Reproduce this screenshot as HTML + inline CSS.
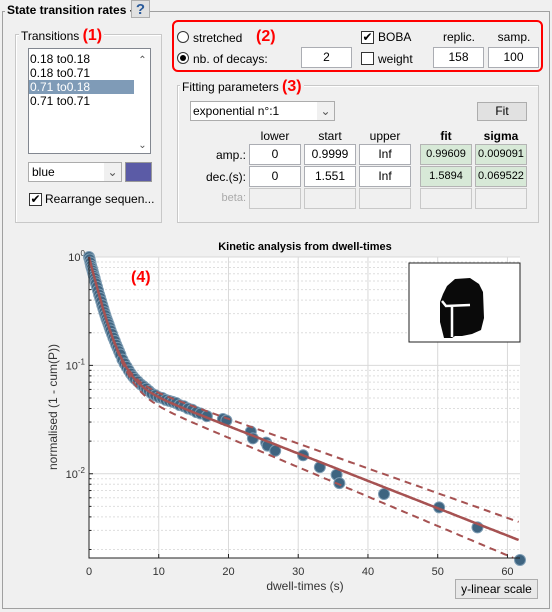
<!DOCTYPE html>
<html><head><meta charset="utf-8">
<style>
body{margin:0;width:552px;height:612px;background:#f0f0f0;font-family:"Liberation Sans",sans-serif;font-size:11px;color:#000;position:relative;overflow:hidden}
.a{position:absolute;box-sizing:border-box}
.frame{border:1px solid #c8c8c8;box-shadow:inset 1px 1px 0 #fff}
.lbl{background:#f0f0f0;padding:0 2px;white-space:nowrap}
.red{color:#f00;font-weight:bold;font-size:16px}
.inp{background:#fff;border:1px solid #abadb3;text-align:center;line-height:19px;font-size:12px}
.fitc{background:#d7e9d7;border:1px solid #b4b4b4;text-align:center;line-height:19px;font-size:11px}
.dis{border:1px solid #c8c8c8;background:#f0f0f0}
.btn{background:#e1e1e1;border:1px solid #adadad;text-align:center;font-size:12px}
.hdr{text-align:center;font-size:12px;width:52px}
.rl{text-align:right;width:60px;font-size:12px}
</style></head><body>
<div class="a" style="left:2px;top:11px;width:548px;height:598px;border:1px solid #a0a0a0"></div>
<div class="a lbl" style="left:5px;top:3px;font-weight:bold;font-size:12px">State transition rates -</div>
<div class="a btn" style="left:131px;top:0px;width:19px;height:18px;font-weight:bold;font-size:15px;color:#2a5a9a;line-height:17px">?</div>

<div class="a frame" style="left:15px;top:34px;width:147px;height:189px"></div>
<div class="a lbl" style="left:19px;top:27px;font-size:12px">Transitions <span class="red">(1)</span></div>
<div class="a" style="left:28px;top:48px;width:123px;height:106px;background:#fff;border:1px solid #828790;font-size:12px">
 <div style="height:14px;padding-left:1px;margin-top:3px">0.18 to0.18</div>
 <div style="height:14px;padding-left:1px">0.18 to0.71</div>
 <div style="height:14px;padding-left:1px;background:#7f9bb7;color:#fff;width:104px">0.71 to0.18</div>
 <div style="height:14px;padding-left:1px">0.71 to0.71</div>
 <div class="a" style="left:106px;top:0;width:15px;height:104px;color:#555;text-align:center;font-size:10px"><div style="margin-top:6px">&#8963;</div><div style="margin-top:74px">&#8964;</div></div>
</div>
<div class="a" style="left:28px;top:162px;width:94px;height:20px;background:#fff;border:1px solid #acacac;font-size:12px;line-height:18px;padding-left:3px">blue<span class="a" style="left:75px;top:0;width:17px;height:18px;background:#f0f0f0;color:#555;text-align:center">&#8964;</span></div>
<div class="a" style="left:125px;top:162px;width:27px;height:20px;background:#5b5ba6;border:1px solid #999"></div>
<div class="a" style="left:29px;top:193px;width:13px;height:13px;background:#fff;border:1px solid #333;font-size:12px;line-height:11px;text-align:center">&#10004;</div>
<div class="a" style="left:45px;top:192px;font-size:12px">Rearrange sequen...</div>

<div class="a" style="left:172px;top:20px;width:371px;height:52px;border:2px solid #f00;border-radius:6px"></div>
<div class="a" style="left:177px;top:31px;width:12px;height:12px;border:1px solid #333;border-radius:50%;background:#fff"></div>
<div class="a" style="left:193px;top:31px;font-size:12px">stretched</div>
<div class="a" style="left:177px;top:52px;width:12px;height:12px;border:1px solid #333;border-radius:50%;background:#fff"><div style="margin:2px;width:6px;height:6px;border-radius:50%;background:#000"></div></div>
<div class="a" style="left:193px;top:52px;font-size:12px">nb. of decays:</div>
<div class="a red" style="left:256px;top:28px">(2)</div>
<div class="a inp" style="left:301px;top:47px;width:51px;height:21px">2</div>
<div class="a" style="left:361px;top:31px;width:13px;height:13px;background:#fff;border:1px solid #333;font-size:12px;line-height:11px;text-align:center">&#10004;</div>
<div class="a" style="left:378px;top:30px;font-size:12px">BOBA</div>
<div class="a" style="left:361px;top:52px;width:13px;height:13px;background:#fff;border:1px solid #333"></div>
<div class="a" style="left:378px;top:52px;font-size:12px">weight</div>
<div class="a hdr" style="left:433px;top:30px">replic.</div>
<div class="a hdr" style="left:488px;top:30px">samp.</div>
<div class="a inp" style="left:433px;top:47px;width:51px;height:21px">158</div>
<div class="a inp" style="left:488px;top:47px;width:51px;height:21px">100</div>

<div class="a frame" style="left:177px;top:85px;width:362px;height:138px"></div>
<div class="a lbl" style="left:180px;top:78px;font-size:12px">Fitting parameters <span class="red">(3)</span></div>
<div class="a" style="left:190px;top:101px;width:145px;height:20px;background:#fff;border:1px solid #acacac;font-size:12px;line-height:18px;padding-left:2px">exponential n°:1<span class="a" style="left:126px;top:0;width:17px;height:18px;background:#f0f0f0;color:#555;text-align:center">&#8964;</span></div>
<div class="a btn" style="left:477px;top:102px;width:50px;height:19px;line-height:17px">Fit</div>
<div class="a hdr" style="left:249px;top:129px">lower</div>
<div class="a hdr" style="left:304px;top:129px">start</div>
<div class="a hdr" style="left:359px;top:129px">upper</div>
<div class="a hdr" style="left:420px;top:129px;font-weight:bold">fit</div>
<div class="a hdr" style="left:475px;top:129px;font-weight:bold">sigma</div>
<div class="a rl" style="left:186px;top:148px">amp.:</div>
<div class="a rl" style="left:186px;top:170px">dec.(s):</div>
<div class="a rl" style="left:186px;top:192px;color:#aaa;font-size:11px">beta:</div>
<div class="a inp" style="left:249px;top:144px;width:52px;height:21px">0</div>
<div class="a inp" style="left:304px;top:144px;width:52px;height:21px">0.9999</div>
<div class="a inp" style="left:359px;top:144px;width:52px;height:21px">Inf</div>
<div class="a fitc" style="left:420px;top:144px;width:52px;height:21px">0.99609</div>
<div class="a fitc" style="left:475px;top:144px;width:52px;height:21px">0.009091</div>
<div class="a inp" style="left:249px;top:166px;width:52px;height:21px">0</div>
<div class="a inp" style="left:304px;top:166px;width:52px;height:21px">1.551</div>
<div class="a inp" style="left:359px;top:166px;width:52px;height:21px">Inf</div>
<div class="a fitc" style="left:420px;top:166px;width:52px;height:21px">1.5894</div>
<div class="a fitc" style="left:475px;top:166px;width:52px;height:21px">0.069522</div>
<div class="a dis" style="left:249px;top:188px;width:52px;height:21px"></div>
<div class="a dis" style="left:304px;top:188px;width:52px;height:21px"></div>
<div class="a dis" style="left:359px;top:188px;width:52px;height:21px"></div>
<div class="a dis" style="left:420px;top:188px;width:52px;height:21px"></div>
<div class="a dis" style="left:475px;top:188px;width:52px;height:21px"></div>

<svg class="a" id="chart" style="left:0;top:230px" width="552" height="382" viewBox="0 230 552 382" font-family="Liberation Sans, sans-serif"></svg>
<div class="a btn" style="left:455px;top:579px;width:83px;height:20px;line-height:18px;background:#e8e8e8">y-linear scale</div>

<script>
const tickX=[0,10,20,30,40,50,60];
const decadeExps=[0,-1,-2];
const dataT=[0,0.1,0.2,0.3,0.4,0.5,0.6,0.7,0.8,0.9,1.0,1.15,1.3,1.45,1.6,1.75,1.9,2.05,2.2,2.35,2.5,2.65,2.8,2.95,3.1,3.3,3.5,3.7,3.9,4.1,4.3,4.5,4.8,5.1,5.4,5.7,6.0,6.3,6.6,7.0,7.4,7.8,8.2,8.6,9.0,9.5,10.0,10.5,11.0,11.5,12.0,12.5,13.0,13.6,14.2,14.8,15.4,16.0,16.9,19.2,19.7,23.2,23.5,25.4,25.6,26.7,30.7,33.1,35.5,35.9,42.3,50.2,55.7,61.8];
const dataY=[1.0,0.95,0.89,0.83,0.79,0.75,0.71,0.67,0.64,0.60,0.57,0.53,0.49,0.45,0.42,0.39,0.36,0.335,0.31,0.29,0.27,0.255,0.24,0.225,0.21,0.195,0.18,0.168,0.155,0.145,0.135,0.126,0.113,0.104,0.097,0.090,0.084,0.079,0.075,0.071,0.067,0.064,0.061,0.058,0.055,0.053,0.051,0.050,0.048,0.047,0.046,0.045,0.043,0.042,0.040,0.039,0.037,0.036,0.034,0.032,0.031,0.0245,0.0212,0.0194,0.0182,0.0163,0.0148,0.0115,0.0098,0.0082,0.0065,0.0049,0.0032,0.0016];
const fitAmp=[0.91,0.088], fitTau=[1.59,17.2];
const upAmp=[0.91,0.092], upTau=[1.55,19.0];
const loAmp=[0.91,0.075], loTau=[1.65,16.0];
const X0=89,X1=520,Y0=257,Y1=558,xMax=61.8,logMin=Math.log10(0.00167);
const sx=t=>X0+t/xMax*(X1-X0);
const sy=v=>Y0+(0-Math.log10(v))/(0-logMin)*(Y1-Y0);
const NS='http://www.w3.org/2000/svg';
const svg=document.getElementById('chart');
function mk(tag,attrs,parent){const e=document.createElementNS(NS,tag);for(const k in attrs)e.setAttribute(k,attrs[k]);(parent||svg).appendChild(e);return e;}
let e=mk('rect',{x:X0,y:Y0,width:X1-X0,height:Y1-Y0,fill:'#fff'});


for(const d of [0,-1,-2,-3]){for(let m=2;m<=9;m++){const vv=m*Math.pow(10,d)/10;if(vv<0.00167||vv>1)continue;const y=sy(vv);e=mk('line',{x1:X0,x2:X1,y1:y,y2:y,stroke:'#dedede','stroke-dasharray':'2,2'});


mk('line',{x1:X0,x2:X0+2.5,y1:y,y2:y,stroke:'#222'});}}
for(const d of decadeExps){const y=sy(Math.pow(10,d));e=mk('line',{x1:X0,x2:X1,y1:y,y2:y,stroke:'#d9d9d9'});


e=mk('text',{x:X0-4,y:y+4,'text-anchor':'end','font-size':11,fill:'#333'});e.textContent='10';


const s=mk('tspan',{dy:-5,'font-size':8},e);s.textContent=String(d);
mk('line',{x1:X0,x2:X0+4,y1:y,y2:y,stroke:'#222'});}
for(const t of tickX){const x=sx(t);e=mk('line',{x1:x,x2:x,y1:Y0,y2:Y1,stroke:'#d9d9d9'});


mk('line',{x1:x,x2:x,y1:Y1,y2:Y1-4,stroke:'#222'});
e=mk('text',{x:x,y:Y1+17,'text-anchor':'middle','font-size':11,fill:'#333'});e.textContent=String(t);

}
for(let i=0;i<dataT.length;i++){e=mk('circle',{cx:sx(dataT[i]),cy:sy(dataY[i]),r:5.5,fill:'#3e6480',stroke:'#7d9cb3','stroke-width':1});

}
function curve(A,T,dash,name){let d='';for(let t=0;t<=xMax;t+=0.2){const v=A[0]*Math.exp(-t/T[0])+A[1]*Math.exp(-t/T[1]);if(v<0.00167)break;d+=(d?'L':'M')+sx(t).toFixed(1)+','+sy(v).toFixed(1);}
const p=mk('path',{d:d,fill:'none',stroke:'#a65252','stroke-width':dash?2:2.5,'stroke-dasharray':dash?'7,5':'none'});

}
curve(upAmp,upTau,true,'upper-bound-line');
curve(loAmp,loTau,true,'lower-bound-line');
curve(fitAmp,fitTau,false,'fit-line');
e=mk('path',{d:`M${X0},${Y0}V${Y1}H${X1}`,fill:'none',stroke:'#222'});


e=mk('text',{x:305,y:250,'text-anchor':'middle','font-size':11,'font-weight':'bold'});e.textContent='Kinetic analysis from dwell-times';


e=mk('text',{x:305,y:590,'text-anchor':'middle','font-size':12,fill:'#333'});e.textContent='dwell-times (s)';


e=mk('text',{x:0,y:0,'text-anchor':'middle','font-size':12,fill:'#333',transform:'translate(57,407) rotate(-90)'});e.textContent='normalised (1 - cum(P))';


e=mk('text',{x:131,y:282,'font-size':16,'font-weight':'bold',fill:'#f00'});e.textContent='(4)';


const g=mk('g',{});


mk('rect',{x:409,y:263,width:111,height:79,fill:'#fff',stroke:'#222'},g);
mk('path',{d:'M447,286 L455,279 L470,278 L479,284 L483,292 L484,318 L481,330 L472,334 L462,336 L455,336 L452,338 L444,338 L442,330 L440,322 L440,302 L443,294 Z',fill:'#0a0a0a'},g);
mk('path',{d:'M442,301 L446,306 L470,305 M452,307 L452,337',fill:'none',stroke:'#fff','stroke-width':2.5},g);
</script>
</body></html>
